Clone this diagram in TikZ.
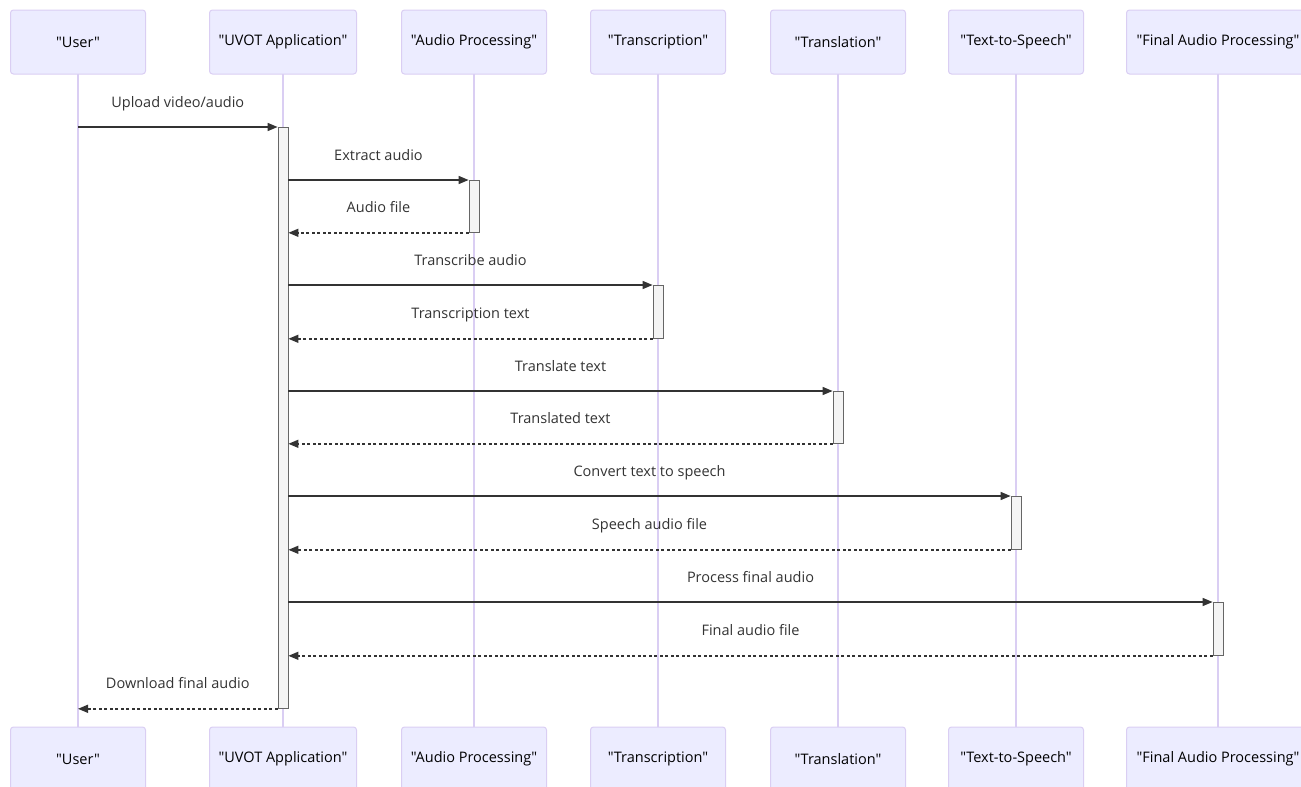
\documentclass[tikz,border=0pt]{standalone}
\usepackage{fontspec}
\setmainfont{Open Sans}[Ligatures=TeXOff]
\usetikzlibrary{arrows.meta}

\definecolor{actfill}{HTML}{ECECFF}
\definecolor{actline}{HTML}{DACEF3}
\definecolor{barfill}{HTML}{F4F4F4}
\definecolor{ink}{HTML}{333333}

\tikzset{
  actor/.style={draw=actline, fill=actfill, rounded corners=3pt, line width=1pt,
    minimum height=64pt, text=black, font=\fontsize{14.5}{16}\selectfont},
  lifeline/.style={draw=actline, line width=1.2pt},
  actbar/.style={draw=black!60, fill=barfill, line width=0.8pt, minimum width=10pt,
    inner sep=0pt, anchor=north},
  msg/.style={draw=ink, line width=1.4pt, -{Triangle[length=10pt,width=8pt]}},
  reply/.style={msg, dash pattern=on 3pt off 2.5pt},
  lbl/.style={text=ink, anchor=base, yshift=20pt, font=\fontsize{14.5}{16}\selectfont}
}

\begin{document}
\begin{tikzpicture}[x=1pt, y=-1pt]
  \useasboundingbox (0,0) rectangle (1301,787);

  % participants, top and bottom
  \foreach \id/\x/\w/\name in {user/78/135/User, app/283/147/UVOT Application,
      audio/474/145/Audio Processing, transc/658/135/Transcription,
      transl/838/135/Translation, tts/1016/135/Text-to-Speech,
      final/1218/183/Final Audio Processing} {
    \draw[lifeline] (\x,74) -- (\x,727);
    \node[actor, minimum width=\w pt] (\id Top) at (\x,42) {"\name"};
    \node[actor, minimum width=\w pt] (\id Bot) at (\x,759) {"\name"};
  }

  % activation bars
  \node[actbar, minimum height=581pt] (bApp) at (283,127) {};
  \node[actbar, minimum height=52pt] (bAudio) at (474,180) {};
  \node[actbar, minimum height=53pt] (bTransc) at (658,285) {};
  \node[actbar, minimum height=52pt] (bTransl) at (838,391) {};
  \node[actbar, minimum height=53pt] (bTts) at (1016,496) {};
  \node[actbar, minimum height=53pt] (bFinal) at (1218,602) {};

  % messages
  \draw[msg] (userTop |- bApp.north) -- (bApp.north west)
    node[lbl, midway] {Upload video/audio};
  \draw[msg] (bApp.east |- bAudio.north) -- (bAudio.north west)
    node[lbl, midway] {Extract audio};
  \draw[reply] (bAudio.south west) -- (bApp.east |- bAudio.south)
    node[lbl, midway] {Audio file};
  \draw[msg] (bApp.east |- bTransc.north) -- (bTransc.north west)
    node[lbl, midway] {Transcribe audio};
  \draw[reply] (bTransc.south west) -- (bApp.east |- bTransc.south)
    node[lbl, midway] {Transcription text};
  \draw[msg] (bApp.east |- bTransl.north) -- (bTransl.north west)
    node[lbl, midway] {Translate text};
  \draw[reply] (bTransl.south west) -- (bApp.east |- bTransl.south)
    node[lbl, midway] {Translated text};
  \draw[msg] (bApp.east |- bTts.north) -- (bTts.north west)
    node[lbl, midway] {Convert text to speech};
  \draw[reply] (bTts.south west) -- (bApp.east |- bTts.south)
    node[lbl, midway] {Speech audio file};
  \draw[msg] (bApp.east |- bFinal.north) -- (bFinal.north west)
    node[lbl, midway] {Process final audio};
  \draw[reply] (bFinal.south west) -- (bApp.east |- bFinal.south)
    node[lbl, midway] {Final audio file};
  \draw[reply] (bApp.south west) -- (userTop |- bApp.south)
    node[lbl, midway] {Download final audio};
\end{tikzpicture}
\end{document}
